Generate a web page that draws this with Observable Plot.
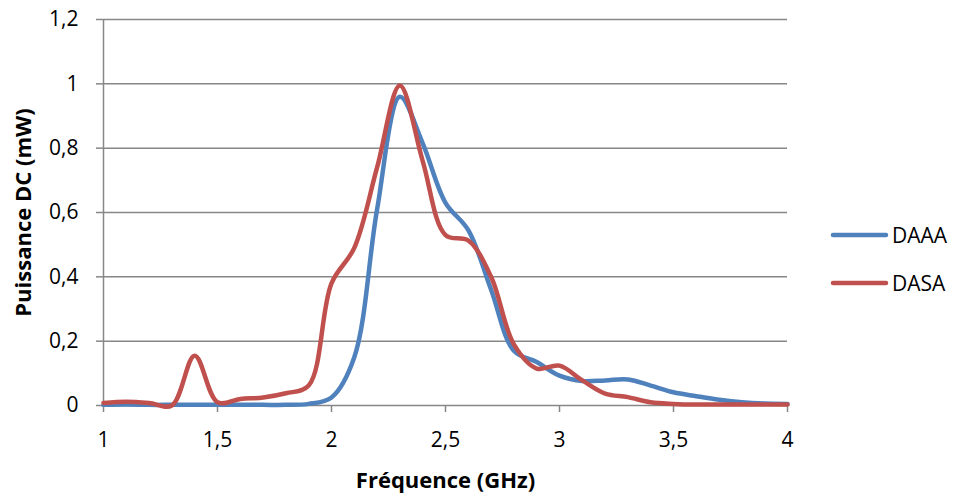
<!DOCTYPE html>
<html>
<head>
<meta charset="utf-8">
<script src="https://cdn.jsdelivr.net/npm/d3@7"></script>
<script src="https://cdn.jsdelivr.net/npm/@observablehq/plot@0.6"></script>
<style>
  html, body { margin: 0; padding: 0; background: #fff; }
  #wrap { position: relative; width: 955px; height: 495px; font-family: "Open Sans", sans-serif; }
  #legend { position: absolute; left: 829px; top: 220px; font-size: 21px; color: #000; }
  .item { display: flex; align-items: center; height: 30px; margin-bottom: 18px; }
  .item svg { margin-right: 3px; }
</style>
</head>
<body>
<div id="wrap"></div>
<script>
const freq = [1.0,1.1,1.2,1.3,1.4,1.5,1.6,1.7,1.8,1.9,2.0,2.1,2.2,2.3,2.4,2.5,2.6,2.7,2.8,2.9,3.0,3.1,3.2,3.3,3.4,3.5,3.6,3.7,3.8,3.9,4.0];
const daaa = [0.002,0.003,0.002,0.002,0.002,0.002,0.002,0.002,0.002,0.005,0.025,0.15,0.61,0.96,0.815,0.63,0.545,0.36,0.17,0.135,0.093,0.076,0.078,0.081,0.062,0.041,0.029,0.018,0.01,0.006,0.005];
const dasa = [0.008,0.012,0.008,0.0,0.155,0.01,0.02,0.025,0.038,0.062,0.38,0.49,0.74,0.995,0.76,0.53,0.513,0.40,0.19,0.115,0.124,0.078,0.037,0.026,0.01,0.005,0.003,0.003,0.003,0.003,0.003];
const seriesNames = ["DAAA", "DASA"];
const seriesColors = ["#4F81BD", "#C0504D"];
const xTicks = [1, 1.5, 2, 2.5, 3, 3.5, 4];
const yTicks = [0, 0.2, 0.4, 0.6, 0.8, 1, 1.2];
const xTitle = "Fréquence (GHz)";
const yTitle = "Puissance DC (mW)";

const fmt = d => String(d).replace(".", ",");
const rows = [];
freq.forEach((f, i) => {
  rows.push({f, v: daaa[i], s: seriesNames[0]});
});
freq.forEach((f, i) => {
  rows.push({f, v: dasa[i], s: seriesNames[1]});
});
const grid = "#878787";

const chart = Plot.plot({
  width: 955,
  height: 495,
  marginLeft: 103,
  marginRight: 168,
  marginTop: 19,
  marginBottom: 90,
  style: {fontFamily: "'Open Sans', sans-serif", fontSize: "21px", color: "#000", background: "#fff"},
  x: {domain: [1, 4]},
  y: {domain: [0, 1.2]},
  color: {domain: seriesNames, range: seriesColors},
  marks: [
    Plot.gridY(yTicks, {stroke: grid, strokeOpacity: 1, strokeWidth: 1.5}),
    Plot.ruleX([1], {stroke: grid, strokeWidth: 1.5}),
    Plot.axisY(yTicks, {tickSize: 7, tickPadding: 18, tickFormat: fmt, stroke: grid, strokeWidth: 1.5, fill: "#000", fontSize: 21, label: null}),
    Plot.axisX(xTicks, {tickSize: 7, tickPadding: 20, tickFormat: fmt, stroke: grid, strokeWidth: 1.5, fill: "#000", fontSize: 21, label: null}),
    Plot.line(rows, {x: "f", y: "v", z: "s", stroke: "s", strokeWidth: 4.5, curve: "catmull-rom"}),
    Plot.text([xTitle], {frameAnchor: "bottom", textAnchor: "middle", lineAnchor: "middle", dy: 75, fontWeight: "bold", fontSize: 22, fill: "#000"}),
    Plot.text([yTitle], {frameAnchor: "left", textAnchor: "middle", lineAnchor: "middle", dx: -80, rotate: -90, fontWeight: "bold", fontSize: 22, fill: "#000"})
  ]
});

const wrap = document.getElementById("wrap");
wrap.appendChild(chart);
const legend = document.createElement("div");
legend.id = "legend";
seriesNames.forEach((n, i) => {
  const it = document.createElement("div");
  it.className = "item";
  it.innerHTML = `<svg width="60" height="10"><line x1="4" y1="5" x2="57" y2="5" stroke="${seriesColors[i]}" stroke-width="4.5" stroke-linecap="round"/></svg><span>${n}</span>`;
  legend.appendChild(it);
});
wrap.appendChild(legend);
</script>
</body>
</html>
